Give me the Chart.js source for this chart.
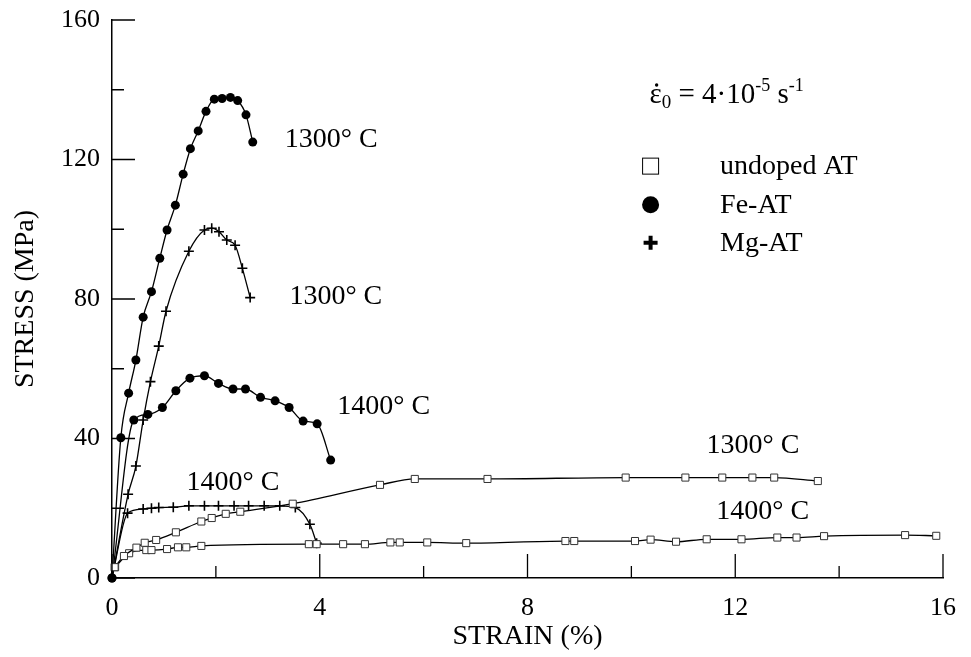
<!DOCTYPE html>
<html>
<head>
<meta charset="utf-8">
<script src="https://cdn.jsdelivr.net/npm/chart.js@4.4.1/dist/chart.umd.min.js"></script>
<style>
   html, body { margin: 0; padding: 0; background: #fff; }
   #chartBox { width: 971px; height: 657px; }
</style>
</head>
<body>
<div id="chartBox"><canvas id="stressChart" width="971" height="657"></canvas></div>
<script>
// [strain %, stress MPa]
const feAt1300 = [[0, 0], [0.17, 40.2], [0.32, 53.0], [0.46, 62.5], [0.60, 74.8], [0.76, 82.1], [0.92, 91.7], [1.06, 99.8], [1.22, 106.9], [1.37, 115.8], [1.51, 123.1], [1.66, 128.2], [1.81, 133.8], [1.97, 137.3], [2.12, 137.5], [2.28, 137.8], [2.42, 136.9], [2.58, 132.8], [2.71, 125.0]];
const feAt1400 = [[0, 0], [0.42, 45.3], [0.69, 46.9], [0.97, 48.9], [1.23, 53.7], [1.50, 57.3], [1.78, 58.0], [2.05, 55.8], [2.33, 54.2], [2.57, 54.2], [2.86, 51.8], [3.14, 50.8], [3.41, 48.9], [3.68, 45.0], [3.95, 44.2], [4.21, 33.8]];
const mgAt1300 = [[0, 0], [0.31, 24.0], [0.46, 32.1], [0.60, 45.3], [0.74, 56.3], [0.90, 66.5], [1.04, 76.5], [1.48, 93.7], [1.78, 99.8], [1.92, 100.3], [2.06, 99.3], [2.21, 96.9], [2.37, 95.4], [2.51, 88.8], [2.66, 80.4]];
const mgAt1400 = [[0, 0], [0.30, 18.6], [0.60, 19.8], [0.76, 20.0], [0.90, 20.2], [1.18, 20.3], [1.48, 20.7], [1.78, 20.7], [2.05, 20.7], [2.35, 20.7], [2.63, 20.7], [2.93, 20.7], [3.23, 20.7], [3.53, 20.2], [3.81, 15.4], [3.94, 10.0]];
const undoped1300 = [[0.05, 3.1], [0.23, 6.3], [0.47, 8.7], [0.63, 10.1], [0.85, 10.9], [1.23, 13.1], [1.72, 16.2], [1.92, 17.2], [2.19, 18.4], [2.47, 19.0], [3.48, 21.3], [5.16, 26.7], [5.83, 28.4], [7.23, 28.4], [9.89, 28.8], [11.04, 28.8], [11.75, 28.8], [12.33, 28.8], [12.75, 28.8], [13.59, 27.8]];
const undoped1400 = [[0.06, 3.1], [0.33, 7.1], [0.66, 8.0], [0.76, 8.0], [1.06, 8.3], [1.27, 8.8], [1.43, 8.8], [1.72, 9.2], [3.79, 9.7], [3.94, 9.7], [4.45, 9.7], [4.87, 9.7], [5.36, 10.2], [5.54, 10.2], [6.07, 10.2], [6.82, 10.0], [8.73, 10.6], [8.90, 10.6], [10.07, 10.6], [10.37, 11.0], [10.86, 10.4], [11.45, 11.1], [12.12, 11.1], [12.81, 11.6], [13.18, 11.6], [13.71, 12.0], [15.27, 12.3], [15.87, 12.1]];

const xTickLabels = [0, 4, 8, 12, 16];
const xMinorTicks = [2, 6, 10, 14];
const yTickLabels = [0, 40, 80, 120, 160];
const yMinorTicks = [20, 60, 100, 140];

const legendNames = ["undoped AT", "Fe-AT", "Mg-AT"];
const curveLabels = [
   { text: "1300° C", x: 4.22, y: 125.6 },
   { text: "1300° C", x: 4.31, y: 80.6 },
   { text: "1400° C", x: 5.23, y: 49.0 },
   { text: "1400° C", x: 2.33, y: 27.2 },
   { text: "1300° C", x: 12.34, y: 37.9 },
   { text: "1400° C", x: 12.53, y: 18.9 }
];

const SERIF = "'Liberation Serif', 'Times New Roman', serif";

function toPoints(pairs) {
   return pairs.map(([x, y]) => ({ x, y }));
}

function hideFirst(radius) {
   return (ctx) => (ctx.dataIndex === 0 ? 0 : radius);
}

function squareSeries(pairs) {
   return {
      data: toPoints(pairs),
      borderColor: "#000",
      borderWidth: 1.3,
      pointStyle: "rect",
      pointRadius: 5,
      pointBorderWidth: 1,
      pointBorderColor: "#333",
      pointBackgroundColor: "#fff"
   };
}

function circleSeries(pairs) {
   return {
      data: toPoints(pairs),
      borderColor: "#000",
      borderWidth: 1.3,
      pointStyle: "circle",
      pointRadius: 4.5,
      pointBorderWidth: 0,
      pointBackgroundColor: "#000"
   };
}

function crossSeries(pairs) {
   return {
      data: toPoints(pairs),
      borderColor: "#000",
      borderWidth: 1.3,
      pointStyle: "cross",
      pointRadius: hideFirst(5),
      pointBorderWidth: 1.6,
      pointBorderColor: "#000"
   };
}

const innerTicks = {
   id: "innerTicks",
   afterDraw(chart) {
      const { ctx, chartArea, scales: { x, y } } = chart;
      ctx.save();
      ctx.strokeStyle = "#000";
      ctx.lineWidth = 1.3;
      ctx.beginPath();
      xTickLabels.forEach((v) => tickX(ctx, x.getPixelForValue(v), chartArea.bottom, 24));
      xMinorTicks.forEach((v) => tickX(ctx, x.getPixelForValue(v), chartArea.bottom, 12));
      yTickLabels.forEach((v) => tickY(ctx, chartArea.left, y.getPixelForValue(v), 23));
      yMinorTicks.forEach((v) => tickY(ctx, chartArea.left, y.getPixelForValue(v), 12));
      ctx.stroke();
      ctx.restore();
   }
};

function tickX(ctx, px, bottom, len) {
   ctx.moveTo(px, bottom);
   ctx.lineTo(px, bottom - len);
}

function tickY(ctx, left, py, len) {
   ctx.moveTo(left, py);
   ctx.lineTo(left + len, py);
}

const annotations = {
   id: "annotations",
   afterDraw(chart) {
      const { ctx, scales: { x, y } } = chart;
      ctx.save();
      ctx.fillStyle = "#000";
      ctx.strokeStyle = "#000";
      ctx.font = `28px ${SERIF}`;
      ctx.textAlign = "center";
      ctx.textBaseline = "middle";
      curveLabels.forEach((l) => ctx.fillText(l.text, x.getPixelForValue(l.x), y.getPixelForValue(l.y)));

      drawRate(ctx, x.getPixelForValue(10.35), y.getPixelForValue(136.2));
      drawLegend(ctx, x.getPixelForValue(10.37), x.getPixelForValue(11.65), [118.1, 107.0, 96.1].map((v) => y.getPixelForValue(v)));
      ctx.restore();
   }
};

function drawRate(ctx, left, base) {
   let cx = left;
   ctx.textAlign = "left";
   ctx.textBaseline = "alphabetic";
   const pieces = [
      { t: "ε", size: 29, dy: 0 },
      { t: "0", size: 19, dy: 5 },
      { t: " = 4·10", size: 29, dy: 0 },
      { t: "-5", size: 18, dy: -12 },
      { t: " s", size: 29, dy: 0 },
      { t: "-1", size: 18, dy: -12 }
   ];
   pieces.forEach((p, i) => {
      ctx.font = `${p.size}px ${SERIF}`;
      ctx.fillText(p.t, cx, base + p.dy);
      const w = ctx.measureText(p.t).width;
      if (i === 0) {
         ctx.beginPath();
         ctx.arc(cx + w / 2 + 1, base - 18, 1.7, 0, Math.PI * 2);
         ctx.fill();
      }
      cx += w;
   });
}

function drawLegend(ctx, markX, textX, rows) {
   ctx.font = `28px ${SERIF}`;
   ctx.textAlign = "left";
   ctx.textBaseline = "middle";
   legendNames.forEach((name, i) => ctx.fillText(name, textX + 3, rows[i] + 1));

   ctx.lineWidth = 1;
   ctx.strokeRect(markX - 8, rows[0] - 8, 16, 16);

   ctx.beginPath();
   ctx.arc(markX, rows[1], 8.5, 0, Math.PI * 2);
   ctx.fill();

   ctx.lineWidth = 4;
   ctx.beginPath();
   ctx.moveTo(markX - 7, rows[2]);
   ctx.lineTo(markX + 7, rows[2]);
   ctx.moveTo(markX, rows[2] - 7);
   ctx.lineTo(markX, rows[2] + 7);
   ctx.stroke();
}

function buildChart() {
   const canvas = document.getElementById("stressChart");
   const datasets = [
      squareSeries(undoped1300),
      squareSeries(undoped1400),
      circleSeries(feAt1300),
      circleSeries(feAt1400),
      crossSeries(mgAt1300),
      crossSeries(mgAt1400)
   ].map((d) => ({ ...d, fill: false, clip: false, cubicInterpolationMode: "monotone" }));

   new Chart(canvas, {
      type: "line",
      data: { datasets },
      options: {
         responsive: false,
         animation: false,
         devicePixelRatio: 1,
         layout: { padding: { top: 20, right: 21, left: 0, bottom: 0 } },
         plugins: {
            legend: { display: false },
            tooltip: { enabled: false }
         },
         scales: {
            x: {
               type: "linear",
               min: 0,
               max: 16,
               afterBuildTicks(scale) {
                  scale.ticks = xTickLabels.map((v) => ({ value: v }));
               },
               afterFit(scale) {
                  scale.height = 79;
               },
               grid: { display: false, drawTicks: false },
               border: { display: true, color: "#000", width: 1.5 },
               ticks: {
                  color: "#000",
                  font: { family: SERIF, size: 26 },
                  padding: 15,
                  maxRotation: 0
               },
               title: {
                  display: true,
                  text: "STRAIN (%)",
                  color: "#000",
                  font: { family: SERIF, size: 28 },
                  padding: { top: 0, bottom: 4 }
               }
            },
            y: {
               type: "linear",
               min: 0,
               max: 160,
               afterBuildTicks(scale) {
                  scale.ticks = yTickLabels.map((v) => ({ value: v }));
               },
               afterFit(scale) {
                  scale.width = 112;
               },
               grid: { display: false, drawTicks: false },
               border: { display: true, color: "#000", width: 1.5 },
               ticks: {
                  color: "#000",
                  font: { family: SERIF, size: 26, lineHeight: 0.5 },
                  padding: 12
               },
               title: {
                  display: true,
                  text: "STRESS (MPa)",
                  color: "#000",
                  font: { family: SERIF, size: 28 },
                  padding: { top: 9, bottom: 0 }
               }
            }
         }
      },
      plugins: [innerTicks, annotations]
   });
}

document.addEventListener("DOMContentLoaded", buildChart);
</script>
</body>
</html>
